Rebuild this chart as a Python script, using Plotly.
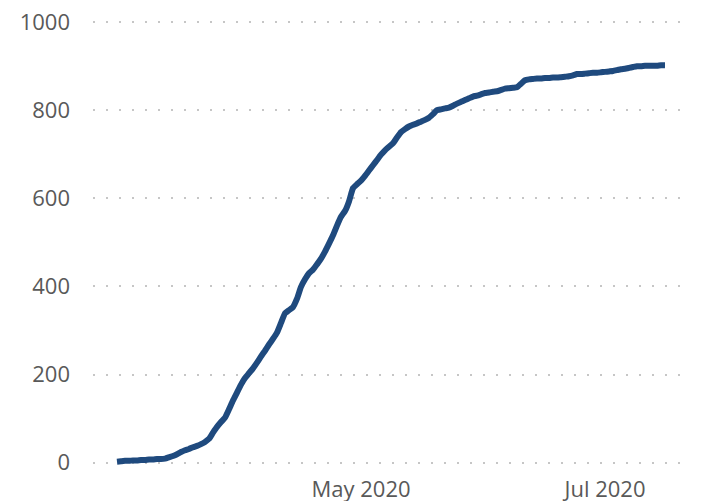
import plotly.graph_objects as go
import pandas as pd

start_date = "2020-03-01"
cumulative = [
    2, 3, 4, 4, 5, 5, 6, 6, 7, 7,
    8, 8, 9, 12, 15, 19, 24, 28, 31, 35,
    38, 42, 47, 54, 68, 81, 92, 102, 121, 141,
    159, 177, 192, 203, 214, 227, 241, 254, 268, 281,
    295, 317, 339, 346, 353, 372, 399, 416, 430, 438,
    450, 463, 479, 497, 516, 538, 558, 571, 593, 623,
    632, 640, 651, 663, 675, 687, 699, 709, 717, 725,
    738, 750, 757, 763, 767, 770, 774, 778, 783, 791,
    800, 802, 804, 806, 810, 815, 819, 823, 827, 831,
    833, 836, 839, 840, 842, 843, 846, 849, 850, 851,
    852, 860, 868, 870, 871, 872, 872, 873, 873, 874,
    874, 875, 876, 877, 879, 882, 882, 883, 884, 885,
    885, 886, 887, 888, 889, 891, 893, 894, 896, 898,
    900, 900, 901, 901, 901, 901, 902, 902,
]
dates = pd.date_range(start_date, periods=len(cumulative), freq="D")

x_tick_vals = ["2020-05-01", "2020-07-01"]
x_tick_text = ["May 2020", "Jul 2020"]
y_tick_vals = [0, 200, 400, 600, 800, 1000]

fig = go.Figure()
fig.add_trace(go.Scatter(
    x=dates, y=cumulative, mode="lines",
    line=dict(color="#1f4a7e", width=6, shape="spline", smoothing=0.4),
    hoverinfo="x+y", showlegend=False,
))

font = dict(family="Open Sans, Lato, sans-serif", size=22, color="#595959")

# the page body has an 8px default margin, so the figure is drawn 8px smaller
fig.update_layout(
    width=696, height=493,
    margin=dict(l=85, r=14, t=13, b=34),
    paper_bgcolor="white", plot_bgcolor="white",
    font=font,
    xaxis=dict(
        type="date",
        range=["2020-02-24", "2020-07-22 06:00"],
        tickmode="array", tickvals=x_tick_vals, ticktext=x_tick_text,
        showgrid=False, zeroline=False, showline=False,
        ticks="", ticklabelstandoff=7, automargin=False,
        ticklabeloverflow="allow",
        tickfont=font,
    ),
    yaxis=dict(
        range=[-10, 1002.5],
        tickmode="array", tickvals=y_tick_vals,
        showgrid=True, gridcolor="#c6c6c6", gridwidth=2, griddash="2px,11px",
        zeroline=False, showline=False,
        ticks="", ticklabelstandoff=22, automargin=False,
        ticklabeloverflow="allow",
        tickfont=font,
    ),
)

fig.write_html("out.html")
